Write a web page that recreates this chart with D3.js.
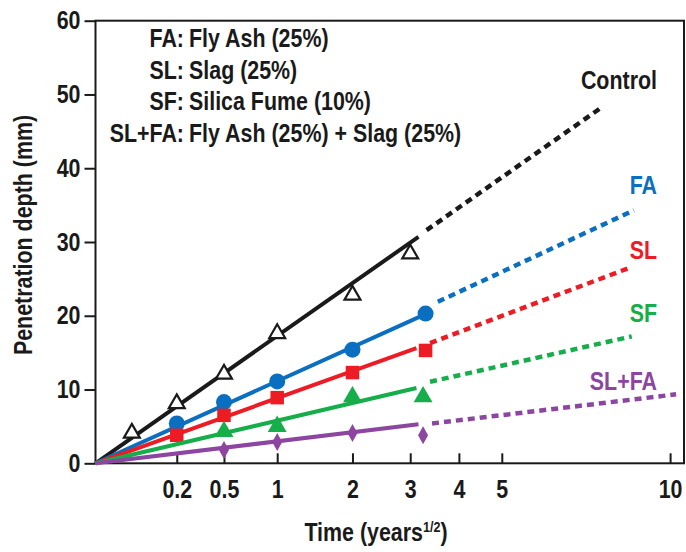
<!DOCTYPE html>
<html>
<head>
<meta charset="utf-8">
<script src="https://cdn.jsdelivr.net/npm/d3@7"></script>
<style>
  body { margin: 0; background: #fff; }
  text { font-family: "Liberation Sans", Arial, sans-serif; font-weight: bold; }
</style>
</head>
<body>
<div id="main"></div>
<script>
const ctx = {
    w: 686,
    h: 552,
    margin: { top: 20.7, right: 2, bottom: 88.7, left: 95.5 },
    fontSize: 25.5,
    narrow: 0.84, // squeeze text to look like a condensed face
};

// ticks
const xTicks = [0.2, 0.5, 1, 2, 3, 4, 5, 10];
const yTicks = [0, 10, 20, 30, 40, 50, 60];

// series (time in years, depth in mm)
const names  = ["Control", "FA", "SL", "SF", "SL+FA"];
const colors = ["#1a1a1a", "#0a6fc0", "#ed1c24", "#16ad4b", "#8c45a0"];

const controlT = [0.04, 0.2, 0.5, 1, 2, 3];
const controlY = [4.1, 8.1, 12.1, 17.6, 22.8, 28.4];
const faT = [0.2, 0.5, 1, 2, 3.3];
const faY = [5.4, 8.3, 11.1, 15.4, 20.3];
const slT = [0.2, 0.5, 1, 2, 3.3];
const slY = [3.8, 6.5, 8.9, 12.3, 15.3];
const sfT = [0.5, 1, 2, 3.25];
const sfY = [4.3, 5.0, 9.0, 9.0];
const slfaT = [0.5, 1, 2, 3.25];
const slfaY = [1.8, 2.9, 4.1, 3.8];

// fitted lines: solid from origin to solidEnd, dashed extrapolation
const solidEnd  = [[3.16, 30.7], [3.32, 20.3], [3.12, 15.6], [3.12, 10.2], [3.16, 5.3]];
const dashStart = [[3.32, 31.6], [3.55, 21.9], [3.39, 16.3], [3.39, 11.05], [3.43, 5.4]];
const dashEnd   = [[7.71, 48.1], [8.78, 34.3], [8.57, 26.4], [8.71, 17.2], [10.21, 9.35]];

const legendKeys  = ["FA:", "SL:", "SF:", "SL+FA:"];
const legendTexts = ["Fly Ash (25%)", "Slag (25%)", "Silica Fume (10%)", "Fly Ash (25%) + Slag (25%)"];

const markerT = [controlT, faT, slT, sfT, slfaT];
const markerY = [controlY, faY, slY, sfY, slfaY];
const labelY  = [89, 194, 259, 322, 390];

function createViz() {
    const svg = d3.select("#main").append("svg")
        .attr("width", ctx.w)
        .attr("height", ctx.h);

    const x = d3.scaleSqrt().domain([0, 10.49])
        .range([ctx.margin.left, ctx.w - ctx.margin.right]);
    const y = d3.scaleLinear().domain([0, 60])
        .range([ctx.h - ctx.margin.bottom, ctx.margin.top]);

    const fs = ctx.fontSize;

    // frame
    svg.append("rect")
        .attr("x", x(0)).attr("y", y(60))
        .attr("width", x.range()[1] - x(0))
        .attr("height", y(0) - y(60))
        .attr("fill", "none")
        .attr("stroke", "#1a1a1a")
        .attr("stroke-width", 2);

    // y axis
    const yAxis = d3.axisLeft(y).tickValues(yTicks).tickSize(11).tickPadding(4);
    const gy = svg.append("g")
        .attr("transform", `translate(${x(0)},0)`)
        .call(yAxis);
    gy.select(".domain").remove();
    gy.selectAll("line").attr("stroke", "#1a1a1a").attr("stroke-width", 2);
    gy.selectAll("text").style("font-size", fs + "px").attr("fill", "#1a1a1a");

    // x axis, ticks inward
    const xAxis = d3.axisTop(x).tickValues(xTicks).tickSize(10).tickFormat(d3.format(""));
    const gx = svg.append("g")
        .attr("transform", `translate(0,${y(0)})`)
        .call(xAxis);
    gx.select(".domain").remove();
    gx.selectAll("line").attr("stroke", "#1a1a1a").attr("stroke-width", 2);
    gx.selectAll("text")
        .attr("y", 35)
        .style("font-size", fs + "px")
        .attr("fill", "#1a1a1a");

    // axis titles
    svg.append("text")
        .attr("transform", `translate(32,${(y(0) + y(60)) / 2 - 7}) rotate(-90)`)
        .attr("text-anchor", "middle")
        .style("font-size", fs + "px")
        .attr("fill", "#1a1a1a")
        .text("Penetration depth (mm)");

    const xt = svg.append("text")
        .attr("x", 376).attr("y", 541)
        .attr("text-anchor", "middle")
        .style("font-size", fs + "px")
        .attr("fill", "#1a1a1a");
    xt.append("tspan").text("Time (years");
    xt.append("tspan").attr("dy", -9).style("font-size", "15px").text("1/2");
    xt.append("tspan").attr("dy", 9).text(")");

    // legend text (colon aligned)
    const lg = svg.append("g");
    legendKeys.forEach((k, i) => {
        const by = 47 + i * 31.7;
        lg.append("text").attr("x", 184).attr("y", by)
            .attr("text-anchor", "end").style("font-size", fs + "px")
            .attr("fill", "#1a1a1a").text(k);
        lg.append("text").attr("x", 189).attr("y", by)
            .style("font-size", fs + "px")
            .attr("fill", "#1a1a1a").text(legendTexts[i]);
    });

    const line = d3.line().x(d => x(d[0])).y(d => y(d[1]));

    names.forEach((n, i) => {
        const g = svg.append("g");
        // solid fit
        g.append("path")
            .attr("d", line([[0, 0], solidEnd[i]]))
            .attr("stroke", colors[i]).attr("stroke-width", 4)
            .attr("fill", "none");
        // dashed extrapolation
        g.append("path")
            .attr("d", line([dashStart[i], dashEnd[i]]))
            .attr("stroke", colors[i]).attr("stroke-width", 4.5)
            .attr("stroke-dasharray", "7,5")
            .attr("fill", "none");

        const pts = markerT[i].map((t, j) => [t, markerY[i][j]]);
        const m = g.selectAll(".m").data(pts).enter().append("path")
            .attr("transform", d => `translate(${x(d[0])},${y(d[1])})`);
        if (i === 0) {
            m.attr("d", d3.symbol(d3.symbolTriangle, 110)())
                .attr("fill", "#fff").attr("stroke", colors[i]).attr("stroke-width", 2.2);
        } else if (i === 1) {
            m.attr("d", d3.symbol(d3.symbolCircle, Math.PI * 8 * 8)())
                .attr("fill", colors[i]);
        } else if (i === 2) {
            m.attr("d", d3.symbol(d3.symbolSquare, 13.5 * 13.5)())
                .attr("fill", colors[i]);
        } else if (i === 3) {
            m.attr("d", d3.symbol(d3.symbolTriangle, 155)())
                .attr("fill", colors[i]);
        } else {
            m.attr("d", "M0,-9L5,0L0,9L-5,0Z")
                .attr("fill", colors[i]);
        }

        // series label
        svg.append("text")
            .attr("x", 657).attr("y", labelY[i])
            .attr("text-anchor", "end")
            .style("font-size", fs + "px")
            .attr("fill", colors[i])
            .text(n);
    });

    // condense every text horizontally (fake condensed face)
    svg.selectAll("text").each(function () {
        const s = d3.select(this);
        const tx = +s.attr("x") || 0;
        const ty = +s.attr("y") || 0;
        const tr = s.attr("transform") || "";
        s.attr("x", 0).attr("y", 0)
            .attr("transform", `${tr} translate(${tx},${ty}) scale(${ctx.narrow},1)`);
    });
}

createViz();
</script>
</body>
</html>
